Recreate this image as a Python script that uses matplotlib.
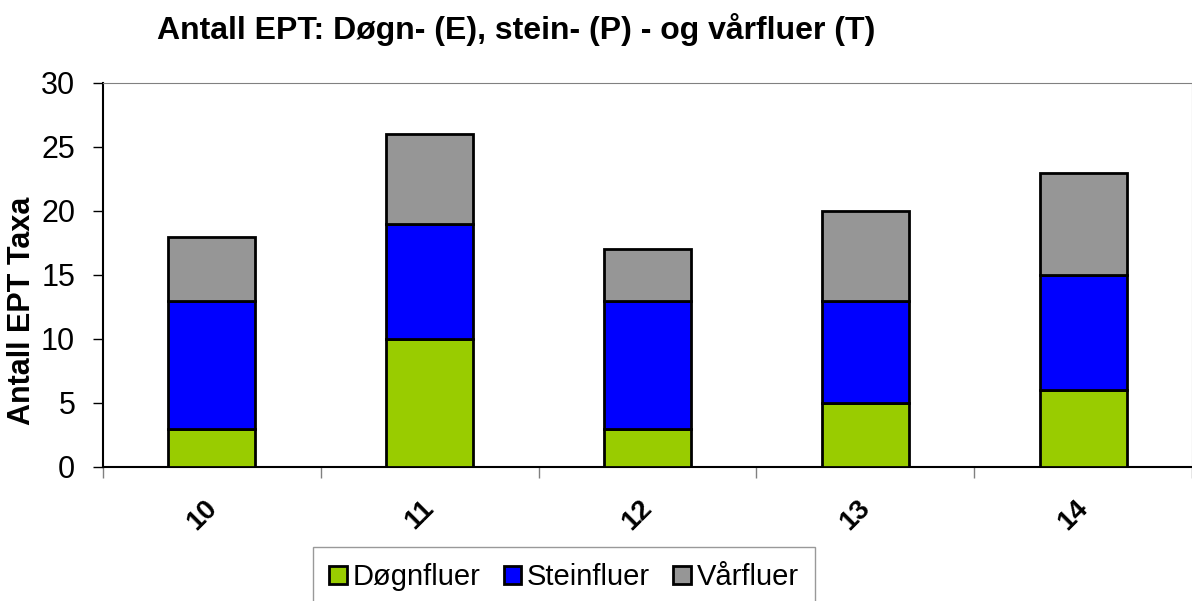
import matplotlib.pyplot as plt
import matplotlib.transforms as mtransforms
import numpy as np

# data
stations = ['10', '11', '12', '13', '14']
dogn = [3, 10, 3, 5, 6]
stein = [10, 9, 10, 8, 9]
vaar = [5, 7, 4, 7, 8]

plt.rcParams['font.family'] = ['Liberation Sans', 'DejaVu Sans']

fig = plt.figure(figsize=(11.92, 6.01), dpi=100)
ax = fig.add_axes([103 / 1192, 1 - 467 / 601, 1 - 103 / 1192, (467 - 83) / 601])

x = np.arange(len(stations))
w = 0.40
kw = dict(width=w, edgecolor='black', linewidth=2, zorder=3)
ax.bar(x, dogn, color='#99cc00', label='Døgnfluer', **kw)
ax.bar(x, stein, bottom=dogn, color='#0000ff', label='Steinfluer', **kw)
bot = np.array(dogn) + np.array(stein)
ax.bar(x, vaar, bottom=bot, color='#969696', label='Vårfluer', **kw)

ax.set_xlim(-0.5, len(stations) - 0.5)
ax.set_ylim(0, 30)
ax.set_yticks(range(0, 31, 5))
ax.tick_params(axis='y', labelsize=22, length=7, width=1, direction='out', pad=13)

ax.set_xticks(x)
ax.set_xticklabels(stations, rotation=45, fontsize=20, fontweight='bold', ha='center')
ax.tick_params(axis='x', which='major', length=0, pad=20)
ax.set_xticks(np.arange(-0.5, len(stations), 1), minor=True)
ax.tick_params(axis='x', which='minor', length=8, color='#808080', width=1)
# excel puts the rotated labels a bit left of the bar centre
shift = mtransforms.ScaledTranslation(-10 / 100, 0, fig.dpi_scale_trans)
for lab in ax.get_xticklabels():
    lab.set_transform(lab.get_transform() + shift)

ax.spines['top'].set_color('#808080')
ax.spines['right'].set_color('#808080')
ax.spines['left'].set_linewidth(1.5)
ax.spines['bottom'].set_linewidth(1.5)

ax.set_ylabel('Antall EPT Taxa', fontsize=22, fontweight='bold')
ax.yaxis.set_label_coords(-66 / 1089, (467 - 311) / 384)

fig.text(516 / 1192, 1 - 30 / 601, 'Antall EPT: Døgn- (E), stein- (P) - og vårfluer (T)',
         fontsize=23, fontweight='bold', ha='center', va='center')

leg = fig.legend(loc='upper left', bbox_to_anchor=(313 / 1192, 1 - 547 / 601),
                 ncol=3, fontsize=21, frameon=True, fancybox=False,
                 handlelength=0.6, handleheight=0.6, handletextpad=0.2,
                 columnspacing=0.8, borderpad=0.55, borderaxespad=0)
leg.get_frame().set_edgecolor('#808080')
leg.get_frame().set_linewidth(1)

fig.savefig('out.png', dpi=100)
